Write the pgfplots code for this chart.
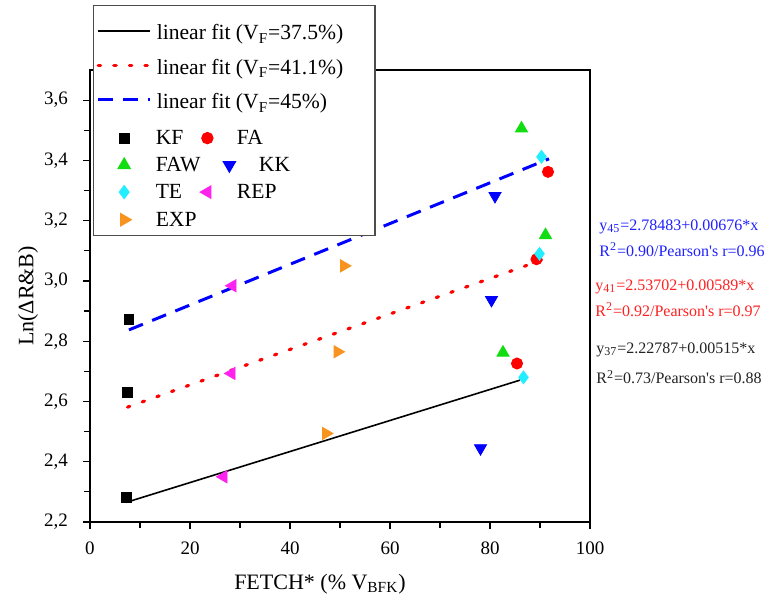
\documentclass[border=0pt]{standalone}
\usepackage{fontspec}
\setmainfont{Liberation Serif}
\usepackage{pgfplots}
\pgfplotsset{compat=1.18}

\definecolor{cfaw}{HTML}{11DD11}
\definecolor{cte}{HTML}{22EEFF}
\definecolor{crep}{HTML}{FF22EE}
\definecolor{cexp}{HTML}{F7931E}
\definecolor{tblue}{HTML}{2020FF}
\definecolor{tred}{HTML}{FF2020}
\definecolor{tblack}{HTML}{222222}

% struts that fix the legend row heights
\newcommand{\LR}{\rule[-4.1pt]{0pt}{17.25pt}}
\newcommand{\MR}{\rule[-3.45pt]{0pt}{13.5pt}}
\newcommand{\ER}{\rule[-0.7pt]{0pt}{8pt}}

\pgfplotsset{
  lineimg/.style={legend image code/.code={%
    \path (0pt,0pt) (28.5pt,0pt);
    \draw[##1] (0.5pt,0pt) -- (26.5pt,0pt);}},
  markA/.style={legend image code/.code={%
    \path (0pt,0pt) (28.5pt,0pt);
    \draw[##1,only marks] plot coordinates {(13.5pt,0pt)};}},
  markTop/.style={legend image code/.code={%
    \path (0pt,0pt) (28.5pt,0pt) (0pt,10.25pt);
    \draw[##1,only marks] plot coordinates {(13.5pt,0pt)};}},
  markLast/.style={legend image code/.code={%
    \path (0pt,0pt) (28.5pt,0pt) (0pt,6.75pt);
    \draw[##1,only marks] plot coordinates {(13.5pt,0pt)};}},
  markB/.style={legend image code/.code={%
    \path (0pt,0pt) (20pt,0pt);
    \draw[##1,only marks] plot coordinates {(5.5pt,0pt)};}},
  markK/.style={legend image code/.code={%
    \path (0pt,0pt) (20pt,0pt);
    \draw[##1,only marks] plot coordinates {(16.5pt,0pt)};}},
}

\begin{document}
\begin{tikzpicture}
\begin{axis}[
  name=ax,
  scale only axis, width=250pt, height=226pt,
  xmin=0, xmax=100, ymin=2.2, ymax=3.7,
  xtick={0,20,...,100},
  ytick={2.2,2.4,2.6,2.8,3.0,3.2,3.4,3.6},
  minor x tick num=1, minor y tick num=1,
  tick align=outside, xtick pos=bottom, ytick pos=left,
  major tick length=3.5pt, minor tick length=3pt,
  every tick/.style={black, line width=0.6pt},
  axis line style={line width=0.9pt},
  /pgf/number format/assume math mode=true,
  yticklabel style={/pgf/number format/fixed, /pgf/number format/fixed zerofill,
    /pgf/number format/precision=1, /pgf/number format/use comma, xshift=-4pt},
  xticklabel style={yshift=-3pt},
  tick label style={font=\fontsize{9.5}{11}\selectfont},
  xlabel={FETCH* (\% V\textsubscript{BFK})},
  ylabel={Ln(ΔR\&B)},
  label style={font=\fontsize{11}{13}\selectfont},
  xlabel style={at={(axis description cs:0.46,-0.137)}, anchor=center},
  ylabel style={at={(axis description cs:-0.124,0.5)}, anchor=center},
  clip=false,
  legend columns=2,
  legend cell align=left,
  every axis legend/.style={cells={anchor=west}, inner xsep=1pt, inner ysep=4pt,
    nodes={inner sep=0pt}, shape=rectangle, fill=white, draw=black!70, line width=0.6pt,
    at={(0.006,1.144)}, anchor=north west,
    font=\fontsize{10.8}{13}\selectfont},
]

% linear fits
\addplot[lineimg, black, line width=0.8pt] coordinates {(7.3,2.26547) (86.0,2.67077)};
\addlegendentry{\makebox[0pt][l]{\LR linear fit (V\textsubscript{F}=37.5\%)}}
\addlegendimage{empty legend}\addlegendentry{\hspace*{68pt}}
\addplot[lineimg, red, line width=1.6pt, line cap=round, dash pattern=on 1.2pt off 6.6pt]
  coordinates {(7.5,2.58120) (91.1,3.07360)};
\addlegendentry{\makebox[0pt][l]{\LR linear fit (V\textsubscript{F}=41.1\%)}}
\addlegendimage{empty legend}\addlegendentry{}
\addplot[lineimg, blue, line width=1.5pt, dash pattern=on 7.5pt off 5pt]
  coordinates {(7.8,2.83756) (91.8,3.40540)};
\addlegendentry{\makebox[0pt][l]{\LR linear fit (V\textsubscript{F}=45\%)}}
\addlegendimage{empty legend}\addlegendentry{}

% data
\addplot[markTop, only marks, mark=square*, black, mark size=2.4pt]
  coordinates {(7.8,2.873) (7.5,2.630) (7.3,2.281)};
\addlegendentry{\makebox[20pt][l]{\MR KF}}
\addplot[markB, only marks, mark=*, red, mark size=2.8pt]
  coordinates {(91.6,3.362) (89.3,3.072) (85.4,2.726)};
\addlegendentry{\MR FA}
\addplot[markA, only marks, mark=triangle*, cfaw, mark size=3.5pt]
  coordinates {(86.3,3.506) (91.1,3.152) (82.6,2.762)};
\addlegendentry{\makebox[20pt][l]{\MR FAW}}
\addplot[markK, only marks, mark=triangle*, blue, mark size=3.5pt, mark options={rotate=180}]
  coordinates {(81.0,3.282) (80.3,2.937) (78.1,2.445)};
\addlegendentry{\MR\hspace*{11pt}KK}
\addplot[markA, only marks, mark=diamond*, cte, mark size=3.2pt]
  coordinates {(90.3,3.412) (89.9,3.090) (86.7,2.680)};
\addlegendentry{\makebox[20pt][l]{\MR TE}}
\addplot[markB, only marks, mark=triangle*, crep, mark size=3.5pt, mark options={rotate=90}]
  coordinates {(28.5,2.984) (28.3,2.693) (26.7,2.350)};
\addlegendentry{\MR REP}
\addplot[markLast, only marks, mark=triangle*, cexp, mark size=3.5pt, mark options={rotate=-90}]
  coordinates {(50.8,3.050) (49.5,2.765) (47.2,2.494)};
\addlegendentry{\makebox[20pt][l]{\ER EXP}}

% fit equations
\begin{scope}[every node/.style={anchor=west, inner sep=0pt, font=\fontsize{8}{10}\selectfont}]
\node[text=tblue] at (axis cs:101.8,3.179) {y\textsubscript{45}=2.78483+0.00676*x};
\node[text=tblue] at (axis cs:101.8,3.103) {R\textsuperscript{2}=0.90/Pearson\textquotesingle s r=0.96};
\node[text=tred] at (axis cs:101.0,2.980) {y\textsubscript{41}=2.53702+0.00589*x};
\node[text=tred] at (axis cs:101.0,2.904) {R\textsuperscript{2}=0.92/Pearson\textquotesingle s r=0.97};
\node[text=tblack] at (axis cs:101.2,2.771) {y\textsubscript{37}=2.22787+0.00515*x};
\node[text=tblack] at (axis cs:101.2,2.681) {R\textsuperscript{2}=0.73/Pearson\textquotesingle s r=0.88};
\end{scope}
\end{axis}
\pgfresetboundingbox
\path (ax.south west) ++(-45pt,-42pt) rectangle ++(385pt,303pt);
\end{tikzpicture}
\end{document}
